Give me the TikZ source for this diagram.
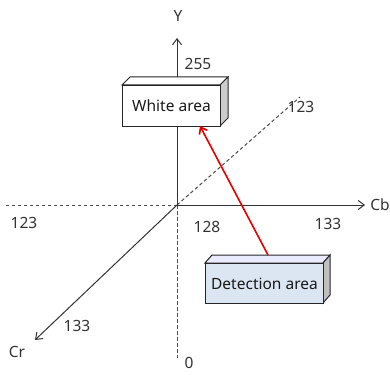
\documentclass[tikz,border=0pt]{standalone}
\usepackage{fontspec}
\setmainfont{Noto Sans}
\usetikzlibrary{arrows.meta}
\begin{document}
\begin{tikzpicture}[x=1pt,y=-1pt,
  axis/.style={draw=black!80,line width=1pt,-{Straight Barb[length=6pt,width=9pt]}},
  dashln/.style={draw=black!70,line width=1pt,dash pattern=on 3.5pt off 2.5pt},
  lbl/.style={font=\fontsize{15.5}{18}\selectfont,text=black!80,inner sep=0pt},
  boxtext/.style={font=\fontsize{15.5}{18}\selectfont,inner sep=0pt,text=black!90}]
\useasboundingbox (0,0) rectangle (390,374);
\coordinate (O) at (177,205);
\coordinate (Ytop) at (177,38);
\coordinate (Ybot) at (177,358);
\coordinate (Cbr) at (365,205);
\coordinate (Cbl) at (5,205);
\coordinate (Crend) at (35,340);
\coordinate (Diag) at (300,97);
% dashed
\draw[dashln] (O) -- (Cbl);
\draw[dashln] (O) -- (Ybot);
\draw[dashln] (O) -- (Diag);
% axes
\draw[axis] (O) -- (Ytop);
\draw[axis] (O) -- (Cbr);
\draw[axis] (O) -- (Crend);
% labels
\node[lbl] (ly) at (178,16) {Y};
\node[lbl] (l255) at (198,64) {255};
\node[lbl] (lcb) at (380,205) {Cb};
\node[lbl] (lcr) at (17,352) {Cr};
\node[lbl] (l123a) at (301,107) {123};
\node[lbl] (l123b) at (24,223) {123};
\node[lbl] (l128) at (207,227) {128};
\node[lbl] (l133a) at (328,224) {133};
\node[lbl] (l133b) at (77,326) {133};
\node[lbl] (l0) at (189,363) {0};
% white box
\draw[black!85,line width=1pt,fill=white] (122,85) -- (130,77) -- (228,77) -- (220,85) -- cycle;
\draw[black!85,line width=1pt,fill=black!20] (220,85) -- (228,77) -- (228,118) -- (220,126) -- cycle;
\node[draw=black!85,line width=1pt,fill=white,minimum width=98pt,minimum height=41pt,anchor=north west,inner sep=0pt] (white) at (122,85) {};
\node[boxtext] (wt) at (white.center) {White area};
% detection box
\draw[black!85,line width=1pt,fill=blue!8!white] (205,263) -- (212,255) -- (330,255) -- (323,263) -- cycle;
\draw[black!85,line width=1pt,fill=black!25] (323,263) -- (330,255) -- (330,295) -- (323,303) -- cycle;
\node[draw=black!85,line width=1pt,fill={rgb,255:red,220;green,230;blue,242},minimum width=118pt,minimum height=40pt,anchor=north west,inner sep=0pt] (det) at (205,263) {};
\node[boxtext] (dt) at (det.center) {Detection area};
% red arrow
\coordinate (rs) at (268,255);
\coordinate (re) at (200,126);
\draw[red!90!black,line width=1.6pt,-{Straight Barb[length=6pt,width=9pt]}] (rs) -- (re);
\end{tikzpicture}
\end{document}
